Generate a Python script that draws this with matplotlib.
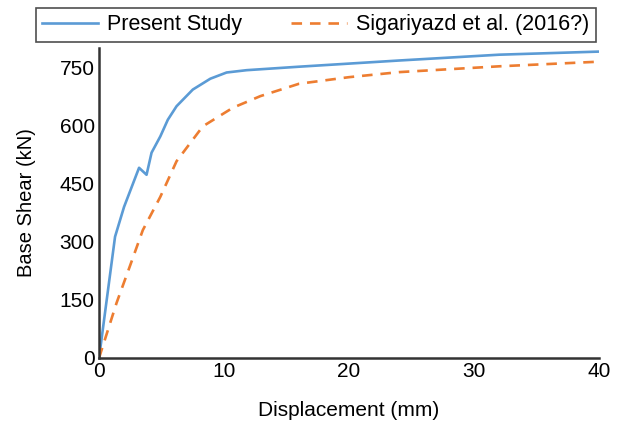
import matplotlib.pyplot as plt

plt.rcParams['font.family'] = ['Liberation Sans', 'DejaVu Sans']

# Present Study (displacement mm, base shear kN)
present_x = [0, 1.28, 2.0, 3.2, 3.8, 4.2, 4.9, 5.5, 6.2, 7.5, 8.9, 10.2, 11.8, 16, 24, 32, 40]
present_y = [0, 313, 390, 491, 473, 530, 572, 615, 650, 693, 721, 737, 743, 752, 768, 783, 791]

# Sigariyazd et al. (2016?)
ref_x = [0, 1.4, 2.5, 3.5, 4.9, 6.2, 8.3, 10.7, 12.9, 16, 20, 24, 32, 40]
ref_y = [0, 142, 240, 330, 416, 508, 598, 646, 676, 708, 725, 738, 753, 765]

fig = plt.figure(figsize=(6.19, 4.28), dpi=100)
ax = fig.add_axes([0.16, 0.1636, 0.808, 0.724])

ax.plot(present_x, present_y, color='#5B9BD5', lw=1.9, label='Present Study')
ax.plot(ref_x, ref_y, color='#ED7D31', lw=1.9, dashes=(4, 3), label='Sigariyazd et al. (2016?)')

ax.set_xlim(0, 40)
ax.set_ylim(0, 800)
ax.set_xticks([0, 10, 20, 30, 40])
ax.set_yticks([0, 150, 300, 450, 600, 750])
ax.tick_params(length=0, labelsize=15)
ax.tick_params(axis='x', pad=3)
ax.tick_params(axis='y', pad=3)
for s in ['top', 'right']:
    ax.spines[s].set_visible(False)
for s in ['left', 'bottom']:
    ax.spines[s].set_linewidth(1.8)
    ax.spines[s].set_color('#333333')

ax.set_xlabel('Displacement (mm)', fontsize=15, labelpad=14)
ax.set_ylabel('Base Shear (kN)', fontsize=14.5, labelpad=17)

leg = fig.legend(loc='lower left', ncol=2,
                 bbox_to_anchor=(0.058, 0.902),
                 fontsize=15.5, frameon=True, fancybox=False,
                 handlelength=2.6, handletextpad=0.4, borderaxespad=0,
                 columnspacing=2.3, borderpad=0.3)
leg.get_frame().set_edgecolor('#222222')
leg.get_frame().set_linewidth(1.2)

fig.savefig('out.png', dpi=100)
